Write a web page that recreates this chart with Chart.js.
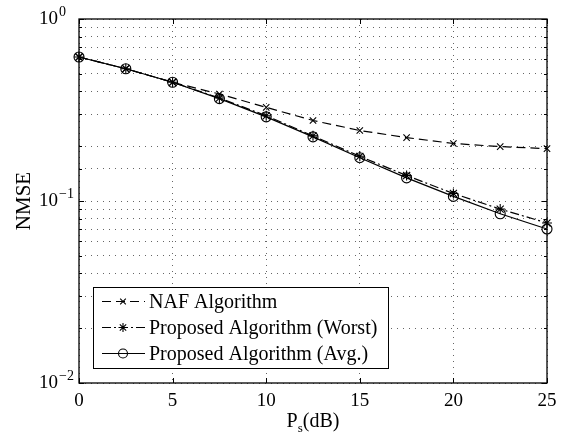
<!DOCTYPE html>
<html>
<head>
<meta charset="utf-8">
<script src="https://cdn.jsdelivr.net/npm/chart.js@4/dist/chart.umd.min.js"></script>
<style>
  html, body { margin: 0; padding: 0; background: #fff; }
  #wrap { width: 565px; height: 436px; }
</style>
</head>
<body>
<div id="wrap"><canvas id="c" width="565" height="436"></canvas></div>
<script>
// ---- Data ----
const xValues = [0, 2.5, 5, 7.5, 10, 12.5, 15, 17.5, 20, 22.5, 25];
const nafValues   = [0.618, 0.533, 0.449, 0.387, 0.327, 0.277, 0.244, 0.223, 0.207, 0.199, 0.194];
const worstValues = [0.618, 0.533, 0.449, 0.368, 0.294, 0.228, 0.176, 0.138, 0.110, 0.0903, 0.0757];
const avgValues   = [0.618, 0.533, 0.449, 0.365, 0.290, 0.225, 0.173, 0.134, 0.106, 0.0851, 0.0702];
const seriesLabels = ['NAF Algorithm', 'Proposed Algorithm (Worst)', 'Proposed Algorithm (Avg.)'];
const xTickLabels = ['0', '5', '10', '15', '20', '25'];
const yTickBase = '10';
const yTickExponents = ['\u22122', '\u22121', '0'];
const xTitle = ['P', 's', '(dB)'];
const yTitle = 'NMSE';

const FONT = '"Liberation Serif", "Times New Roman", serif';
const toPts = arr => xValues.map((x, i) => ({ x: x, y: arr[i] }));

const styles = [
  { pointStyle: 'crossRot', radius: 4.5, dash: [9, 5] },
  { pointStyle: 'star', radius: 5, dash: [9, 3, 2, 3] },
  { pointStyle: 'circle', radius: 5, dash: [] }
];
const seriesData = [nafValues, worstValues, avgValues];

const datasets = seriesData.map((arr, i) => ({
  label: seriesLabels[i],
  data: toPts(arr),
  borderColor: '#000',
  backgroundColor: 'rgba(0,0,0,0)',
  borderWidth: 1.2,
  borderDash: styles[i].dash,
  pointStyle: styles[i].pointStyle,
  pointRadius: styles[i].radius,
  pointBorderColor: '#000',
  pointBackgroundColor: 'rgba(0,0,0,0)',
  pointBorderWidth: 1.1,
  tension: 0,
  clip: false
}));

const isDecade = v => { const l = Math.log10(v); return Math.abs(l - Math.round(l)) < 1e-9; };
const Y_PAD = 21;

const framePlugin = {
  id: 'frame',
  afterDraw(chart) {
    const ctx = chart.ctx, a = chart.chartArea;
    const xs = chart.scales.x, ys = chart.scales.y;
    ctx.save();
    ctx.strokeStyle = '#000';
    ctx.setLineDash([]);
    // inward tick marks
    ctx.lineWidth = 1;
    ctx.beginPath();
    xs.ticks.forEach(t => {
      const px = Math.round(xs.getPixelForValue(t.value)) + 0.5;
      ctx.moveTo(px, a.bottom); ctx.lineTo(px, a.bottom - 5);
      ctx.moveTo(px, a.top); ctx.lineTo(px, a.top + 5);
    });
    ys.ticks.forEach(t => {
      const len = isDecade(t.value) ? 5 : 3;
      const py = Math.round(ys.getPixelForValue(t.value)) + 0.5;
      ctx.moveTo(a.left, py); ctx.lineTo(a.left + len, py);
      ctx.moveTo(a.right, py); ctx.lineTo(a.right - len, py);
    });
    ctx.stroke();
    // frame
    ctx.lineWidth = 1.3;
    ctx.strokeRect(a.left, a.top, a.right - a.left, a.bottom - a.top);

    // exponents of the y tick labels
    ctx.fillStyle = '#000';
    ctx.font = '14px ' + FONT;
    ctx.textAlign = 'left';
    ctx.textBaseline = 'alphabetic';
    ys.ticks.forEach(t => {
      if (!isDecade(t.value)) return;
      const e = Math.round(Math.log10(t.value));
      const py = ys.getPixelForValue(t.value);
      ctx.fillText(yTickExponents[e + 2], a.left - Y_PAD + 1, py - 3);
    });

    // axis titles
    ctx.font = '20px ' + FONT;
    const wP = ctx.measureText(xTitle[0]).width;
    ctx.font = '13px ' + FONT;
    const wS = ctx.measureText(xTitle[1]).width;
    ctx.font = '20px ' + FONT;
    const wD = ctx.measureText(xTitle[2]).width;
    const total = wP + wS + wD;
    const sx = (a.left + a.right) / 2 - total / 2;
    const by = 427;
    ctx.fillText(xTitle[0], sx, by);
    ctx.font = '13px ' + FONT;
    ctx.fillText(xTitle[1], sx + wP, by + 5);
    ctx.font = '20px ' + FONT;
    ctx.fillText(xTitle[2], sx + wP + wS, by);

    ctx.save();
    ctx.translate(24, (a.top + a.bottom) / 2);
    ctx.rotate(-Math.PI / 2);
    ctx.textAlign = 'center';
    ctx.textBaseline = 'middle';
    ctx.font = '21px ' + FONT;
    ctx.fillText(yTitle, 0, 0);
    ctx.restore();

    // legend box (inside plot, lower left)
    const lx = 93, ly = 287, lw = 295, lh = 81;
    ctx.fillStyle = '#fff';
    ctx.fillRect(lx, ly, lw, lh);
    ctx.lineWidth = 1;
    ctx.strokeStyle = '#000';
    ctx.strokeRect(lx + 0.5, ly + 0.5, lw, lh);
    const rows = [301.5, 327.5, 353.5];
    chart.data.datasets.forEach((ds, i) => {
      const y = rows[i];
      ctx.save();
      ctx.lineWidth = 1.1;
      ctx.strokeStyle = '#000';
      ctx.fillStyle = 'rgba(0,0,0,0)';
      ctx.setLineDash(ds.borderDash);
      ctx.beginPath();
      ctx.moveTo(lx + 9, y);
      ctx.lineTo(lx + 52, y);
      ctx.stroke();
      ctx.setLineDash([]);
      Chart.helpers.drawPoint(ctx, {
        pointStyle: ds.pointStyle, radius: ds.pointRadius - 0.5, rotation: 0, borderWidth: 1
      }, lx + 30, y);
      ctx.restore();
      ctx.fillStyle = '#000';
      ctx.font = '20px ' + FONT;
      ctx.textAlign = 'left';
      ctx.textBaseline = 'middle';
      ctx.fillText(ds.label, lx + 56, y + 1);
    });
    ctx.restore();
  }
};

new Chart(document.getElementById('c'), {
  type: 'line',
  data: { datasets: datasets },
  options: {
    responsive: false,
    animation: false,
    devicePixelRatio: 1,
    layout: { padding: { top: 19, right: 18, left: 0, bottom: 0 } },
    plugins: { legend: { display: false }, tooltip: { enabled: false } },
    scales: {
      x: {
        type: 'linear', min: 0, max: 25,
        afterFit(s) { s.height = 53; s.paddingLeft = 0; s.paddingRight = 0; },
        afterBuildTicks(s) { s.ticks = xTickLabels.map(v => ({ value: Number(v) })); },
        ticks: {
          color: '#000', font: { family: FONT, size: 19 }, padding: 7,
          maxRotation: 0, autoSkip: false,
          callback: (v) => xTickLabels.includes(String(v)) ? String(v) : ''
        },
        grid: { color: 'rgba(0,0,0,0.6)', lineWidth: 1, drawTicks: false, z: 0 },
        border: { display: false, dash: [1, 5] }
      },
      y: {
        type: 'logarithmic', min: 0.01, max: 1,
        afterFit(s) { s.width = 79; s.paddingTop = 0; s.paddingBottom = 0; },
        ticks: {
          color: '#000', font: { family: FONT, size: 19 }, padding: Y_PAD, autoSkip: false,
          callback: (v) => isDecade(v) ? yTickBase : ''
        },
        grid: { color: 'rgba(0,0,0,0.6)', lineWidth: 1, drawTicks: false, z: 0 },
        border: { display: false, dash: [1, 5] }
      }
    }
  },
  plugins: [framePlugin]
});
</script>
</body>
</html>
